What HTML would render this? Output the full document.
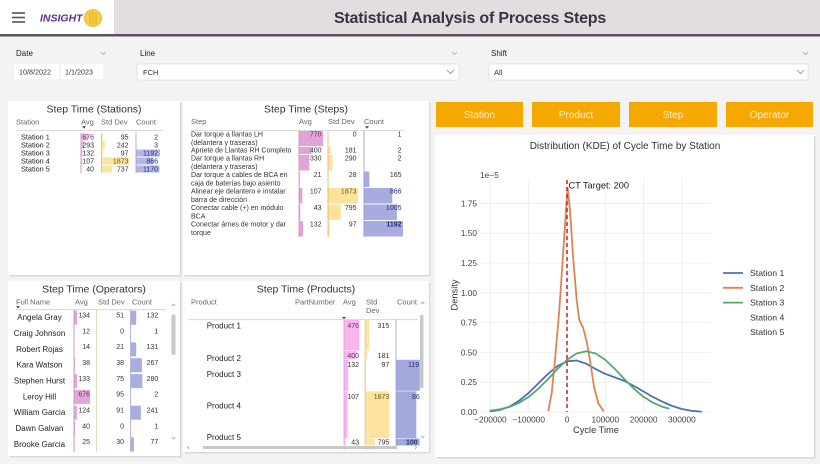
<!DOCTYPE html>
<html>
<head>
<meta charset="utf-8">
<style>
html,body{margin:0;padding:0;background:#f3f3f3;overflow:hidden;}
svg{display:block;}
text{font-family:"Liberation Sans", Arial, sans-serif;}
</style>
</head>
<body>
<svg width="820" height="464" viewBox="0 0 820 464" xmlns="http://www.w3.org/2000/svg">
<rect x="0" y="0" width="820" height="464" fill="#f3f3f3"/>

<!-- HEADER -->
<rect x="0" y="0" width="820" height="34" fill="#e3dde1"/>
<rect x="0" y="0" width="114" height="34" fill="#ffffff"/>
<rect x="0" y="34" width="820" height="2.5" fill="#5b5060"/>
<g stroke="#555" stroke-width="1.6">
<line x1="12" y1="13" x2="25" y2="13"/>
<line x1="12" y1="17.5" x2="25" y2="17.5"/>
<line x1="12" y1="22" x2="25" y2="22"/>
</g>
<text x="40" y="21.5" font-size="10.5" font-weight="bold" font-style="italic" fill="#5a2d91">INSIGHT</text>
<circle cx="93" cy="18" r="8.5" fill="#f6cf45" stroke="#e6ad1a" stroke-width="0.8"/>
<g stroke="#e0a010" stroke-width="0.8" fill="none">
<line x1="90" y1="12" x2="90" y2="24"/>
<line x1="93" y1="11" x2="93" y2="25"/>
<line x1="96" y1="12" x2="96" y2="24"/>
</g>
<text x="470" y="23" text-anchor="middle" font-size="16" font-weight="bold" fill="#3a3242" letter-spacing="-0.2">Statistical Analysis of Process Steps</text>

<!-- FILTERS -->
<text x="16" y="56" font-size="8" fill="#222">Date</text>
<polyline points="101,52 103.5,54.5 106,52" fill="none" stroke="#aaa" stroke-width="0.8"/>
<rect x="14" y="64" width="45" height="15" fill="#fff"/>
<rect x="61" y="64" width="42" height="15" fill="#fff"/>
<text x="19" y="74.5" font-size="7.2" fill="#333">10/8/2022</text>
<text x="65" y="74.5" font-size="7.2" fill="#333">1/1/2023</text>

<text x="140" y="56" font-size="8" fill="#222">Line</text>
<polyline points="452,52 454.5,54.5 457,52" fill="none" stroke="#aaa" stroke-width="0.8"/>
<rect x="137" y="64" width="322" height="16" fill="#fff" stroke="#dedede" stroke-width="0.8"/>
<text x="143" y="75" font-size="7.5" fill="#333">FCH</text>
<polyline points="447,70 450.5,73.5 454,70" fill="none" stroke="#888" stroke-width="0.8"/>

<text x="491" y="56" font-size="8" fill="#222">Shift</text>
<polyline points="803,52 805.5,54.5 808,52" fill="none" stroke="#aaa" stroke-width="0.8"/>
<rect x="489" y="64" width="319" height="16" fill="#fff" stroke="#dedede" stroke-width="0.8"/>
<text x="494" y="75" font-size="7.5" fill="#333">All</text>
<polyline points="797,70 800.5,73.5 804,70" fill="none" stroke="#888" stroke-width="0.8"/>

<!-- PANEL BACKGROUNDS -->
<rect x="9.5" y="102.5" width="172" height="174" fill="#d9d9d9"/>
<rect x="8" y="101" width="172" height="174" fill="#fff"/>
<rect x="184.5" y="102.5" width="246" height="174" fill="#d9d9d9"/>
<rect x="183" y="101" width="246" height="174" fill="#fff"/>
<rect x="9.5" y="282.5" width="172" height="175" fill="#d9d9d9"/>
<rect x="8" y="281" width="172" height="175" fill="#fff"/>
<rect x="184.5" y="282.5" width="246" height="171" fill="#d9d9d9"/>
<rect x="183" y="281" width="246" height="171" fill="#fff"/>
<rect x="436.5" y="136.5" width="379" height="322" fill="#d9d9d9"/>
<rect x="435" y="135" width="379" height="322" fill="#fff"/>

<!-- BUTTONS -->
<rect x="436" y="102" width="87" height="25" fill="#f5a800"/>
<rect x="532" y="102" width="88" height="25" fill="#f5a800"/>
<rect x="629" y="102" width="88" height="25" fill="#f5a800"/>
<rect x="726" y="102" width="87" height="25" fill="#f5a800"/>
<g font-size="10" fill="#fdf0d2" text-anchor="middle">
<text x="479.5" y="118">Station</text>
<text x="576" y="118">Product</text>
<text x="673" y="118">Step</text>
<text x="769.5" y="118">Operator</text>
</g>

<!-- ===== STATIONS TABLE ===== -->
<text x="94" y="112.5" text-anchor="middle" font-size="10.5" fill="#333">Step Time (Stations)</text>
<g font-size="7.5" fill="#666">
<text x="16" y="124.5">Station</text>
<text x="81" y="124.5">Avg</text>
<text x="101" y="124.5">Std Dev</text>
<text x="136" y="124.5">Count</text>
</g>
<polygon points="82,126.3 86,126.3 84,128.6" fill="#444"/>
<line x1="16" y1="130.5" x2="163" y2="130.5" stroke="#d0d0d0" stroke-width="0.8"/>
<!-- bars -->
<g fill="#ebb6e0">
<rect x="81" y="133.5" width="7" height="7"/>
<rect x="81" y="141.5" width="3" height="7"/>
<rect x="81" y="149.5" width="1.4" height="7"/>
<rect x="81" y="157.5" width="1.2" height="7"/>
<rect x="81" y="165.5" width="0.5" height="7"/>
</g>
<g fill="#fde3a0">
<rect x="101.5" y="133.5" width="1.4" height="7"/>
<rect x="101.5" y="141.5" width="3.6" height="7"/>
<rect x="101.5" y="149.5" width="1.4" height="7"/>
<rect x="101.5" y="157.5" width="27.5" height="7"/>
<rect x="101.5" y="165.5" width="10.8" height="7"/>
</g>
<g fill="#b3b6e6">
<rect x="136" y="149.5" width="24" height="7"/>
<rect x="136" y="157.5" width="17.4" height="7"/>
<rect x="136" y="165.5" width="23.5" height="7"/>
</g>
<line x1="81" y1="133" x2="81" y2="173" stroke="#c98bbd" stroke-width="0.8"/>
<line x1="101.5" y1="133" x2="101.5" y2="173" stroke="#e2c070" stroke-width="0.8"/>
<line x1="136" y1="133" x2="136" y2="173" stroke="#9a9ed4" stroke-width="0.8"/>
<g font-size="7.3" fill="#222">
<text x="21" y="139.5">Station 1</text>
<text x="21" y="147.5">Station 2</text>
<text x="21" y="155.5">Station 3</text>
<text x="21" y="163.5">Station 4</text>
<text x="21" y="171.5">Station 5</text>
</g>
<g font-size="7" fill="#333" text-anchor="end">
<text x="94" y="139.5" fill="#7a2a70">676</text>
<text x="94" y="147.5">293</text>
<text x="94" y="155.5">132</text>
<text x="94" y="163.5">107</text>
<text x="94" y="171.5">40</text>
<text x="128.5" y="139.5">95</text>
<text x="128.5" y="147.5">242</text>
<text x="128.5" y="155.5">97</text>
<text x="128.5" y="163.5" fill="#6e5a10">1873</text>
<text x="128.5" y="171.5">737</text>
<text x="158" y="139.5">2</text>
<text x="158" y="147.5">3</text>
<text x="158" y="155.5" fill="#23307a">1192</text>
<text x="158" y="163.5" fill="#23307a">866</text>
<text x="158" y="171.5" fill="#23307a">1170</text>
</g>

<!-- ===== STEPS TABLE ===== -->
<text x="306" y="112.5" text-anchor="middle" font-size="10.5" fill="#333">Step Time (Steps)</text>
<g font-size="7.5" fill="#666">
<text x="191" y="124">Step</text>
<text x="299" y="124">Avg</text>
<text x="328" y="124">Std Dev</text>
<text x="364" y="124">Count</text>
</g>
<polygon points="365,126.3 369,126.3 367,128.6" fill="#444"/>
<line x1="191" y1="130.5" x2="404" y2="130.5" stroke="#d0d0d0" stroke-width="0.8"/>
<g fill="#e2a4d7">
<rect x="299" y="131" width="24" height="15"/>
<rect x="299" y="147" width="12.5" height="7"/>
<rect x="299" y="155" width="10.3" height="15.5"/>
<rect x="299" y="171.5" width="0.7" height="15.5"/>
<rect x="299" y="188" width="3.3" height="15.5"/>
<rect x="299" y="204.5" width="1.3" height="15.5"/>
<rect x="299" y="221" width="4.1" height="15.5"/>
</g>
<g fill="#fde29c">
<rect x="328" y="147" width="2.9" height="7"/>
<rect x="328" y="155" width="4.6" height="15.5"/>
<rect x="328" y="171.5" width="0.5" height="15.5"/>
<rect x="328" y="188" width="30" height="15.5"/>
<rect x="328" y="204.5" width="12.7" height="15.5"/>
<rect x="328" y="221" width="1.6" height="15.5"/>
</g>
<g fill="#a7abdf">
<rect x="364" y="171.5" width="5.4" height="15.5"/>
<rect x="364" y="188" width="28.3" height="15.5"/>
<rect x="364" y="204.5" width="32.9" height="15.5"/>
<rect x="364" y="221" width="39" height="15.5"/>
</g>
<line x1="299" y1="130.5" x2="299" y2="237" stroke="#c98bbd" stroke-width="0.8"/>
<line x1="328" y1="130.5" x2="328" y2="237" stroke="#d8b860" stroke-width="0.8"/>
<line x1="364" y1="130.5" x2="364" y2="237" stroke="#8f93cc" stroke-width="0.8"/>
<g font-size="7" fill="#333">
<text x="191" y="136.5">Dar torque a llantas LH</text>
<text x="191" y="144.8">(delantera y traseras)</text>
<text x="191" y="152.5">Apriete de Llantas RH Completo</text>
<text x="191" y="160.5">Dar torque a llantas RH</text>
<text x="191" y="168.8">(delantera y traseras)</text>
<text x="191" y="177">Dar torque a cables de BCA en</text>
<text x="191" y="185.3">caja de baterías bajo asiento</text>
<text x="191" y="193.5">Alinear eje delantero e instalar</text>
<text x="191" y="201.8">barra de dirección</text>
<text x="191" y="210">Conectar cable (+) en módulo</text>
<text x="191" y="218.3">BCA</text>
<text x="191" y="226.5">Conectar árnes de motor y dar</text>
<text x="191" y="234.8">torque</text>
</g>
<g font-size="7" fill="#333" text-anchor="end">
<text x="321.5" y="136.5" fill="#7a2a70">770</text>
<text x="321.5" y="152.5">400</text>
<text x="321.5" y="160.5">330</text>
<text x="321.5" y="177">21</text>
<text x="321.5" y="193.5">107</text>
<text x="321.5" y="210">43</text>
<text x="321.5" y="226.5">132</text>
<text x="356.5" y="136.5">0</text>
<text x="356.5" y="152.5">181</text>
<text x="356.5" y="160.5">290</text>
<text x="356.5" y="177">28</text>
<text x="356.5" y="193.5" fill="#6e5a10">1873</text>
<text x="356.5" y="210">795</text>
<text x="356.5" y="226.5">97</text>
<text x="401.5" y="136.5">1</text>
<text x="401.5" y="152.5">2</text>
<text x="401.5" y="160.5">2</text>
<text x="401.5" y="177">165</text>
<text x="401.5" y="193.5" fill="#23307a">866</text>
<text x="401.5" y="210" fill="#23307a">1005</text>
<text x="401.5" y="226.5" fill="#23307a" font-weight="bold">1192</text>
</g>

<!-- ===== OPERATORS TABLE ===== -->
<text x="94" y="292.5" text-anchor="middle" font-size="10.5" fill="#333">Step Time (Operators)</text>
<g font-size="7.5" fill="#666">
<text x="16" y="304.5">Full Name</text>
<text x="75" y="304.5">Avg</text>
<text x="98" y="304.5">Std Dev</text>
<text x="132" y="304.5">Count</text>
</g>
<polygon points="16,306.3 20,306.3 18,308.6" fill="#444"/>
<line x1="16" y1="309.7" x2="166" y2="309.7" stroke="#d0d0d0" stroke-width="0.8"/>
<g fill="#e3a6d8">
<rect x="74" y="310.7" width="3.2" height="14"/>
<rect x="74" y="326.5" width="0.3" height="14"/>
<rect x="74" y="342.4" width="0.3" height="14"/>
<rect x="74" y="358.2" width="0.9" height="14"/>
<rect x="74" y="374.1" width="3.1" height="14"/>
<rect x="74" y="389.9" width="16" height="14"/>
<rect x="74" y="405.7" width="2.9" height="14"/>
<rect x="74" y="421.6" width="0.95" height="14"/>
<rect x="74" y="437.4" width="0.6" height="14"/>
</g>
<g fill="#a9addf">
<rect x="130.7" y="310.7" width="5.5" height="14"/>
<rect x="130.7" y="342.4" width="5.5" height="14"/>
<rect x="130.7" y="358.2" width="11.2" height="14"/>
<rect x="130.7" y="374.1" width="11.7" height="14"/>
<rect x="130.7" y="405.7" width="10.1" height="14"/>
<rect x="130.7" y="437.4" width="3.2" height="14"/>
</g>
<line x1="74" y1="309.7" x2="74" y2="452" stroke="#c98bbd" stroke-width="0.8"/>
<line x1="96.7" y1="309.7" x2="96.7" y2="452" stroke="#d8cba0" stroke-width="0.8"/>
<line x1="130.7" y1="309.7" x2="130.7" y2="452" stroke="#9a9ed4" stroke-width="0.8"/>
<g font-size="8" fill="#222" text-anchor="middle">
<text x="39.5" y="320.2">Angela Gray</text>
<text x="39.5" y="336">Craig Johnson</text>
<text x="39.5" y="351.9">Robert Rojas</text>
<text x="39.5" y="367.7">Kara Watson</text>
<text x="39.5" y="383.6">Stephen Hurst</text>
<text x="39.5" y="399.4">Leroy Hill</text>
<text x="39.5" y="415.2">William Garcia</text>
<text x="39.5" y="431.1">Dawn Galvan</text>
<text x="39.5" y="446.9">Brooke Garcia</text>
</g>
<g font-size="7" fill="#333" text-anchor="end">
<text x="90" y="317.5">134</text>
<text x="90" y="333.3">12</text>
<text x="90" y="349.2">14</text>
<text x="90" y="365">38</text>
<text x="90" y="380.9">133</text>
<text x="90" y="396.7" fill="#7a2a70">676</text>
<text x="90" y="412.5">124</text>
<text x="90" y="428.4">40</text>
<text x="90" y="444.2">25</text>
<text x="124" y="317.5">51</text>
<text x="124" y="333.3">0</text>
<text x="124" y="349.2">21</text>
<text x="124" y="365">38</text>
<text x="124" y="380.9">75</text>
<text x="124" y="396.7">95</text>
<text x="124" y="412.5">91</text>
<text x="124" y="428.4">0</text>
<text x="124" y="444.2">30</text>
<text x="158.3" y="317.5">132</text>
<text x="158.3" y="333.3">1</text>
<text x="158.3" y="349.2">131</text>
<text x="158.3" y="365">267</text>
<text x="158.3" y="380.9">280</text>
<text x="158.3" y="396.7">2</text>
<text x="158.3" y="412.5">241</text>
<text x="158.3" y="428.4">1</text>
<text x="158.3" y="444.2">77</text>
</g>
<rect x="171.5" y="314.7" width="4" height="40" fill="#c8c8c8"/>
<polyline points="171.8,306 173.5,304 175.2,306" fill="none" stroke="#999" stroke-width="0.7"/>
<polyline points="171.8,437 173.5,439 175.2,437" fill="none" stroke="#999" stroke-width="0.7"/>

<!-- ===== PRODUCTS TABLE ===== -->
<text x="306" y="292.5" text-anchor="middle" font-size="10.5" fill="#333">Step Time (Products)</text>
<g font-size="7.5" fill="#666">
<text x="191" y="304.5">Product</text>
<text x="295" y="304.5">PartNumber</text>
<text x="343" y="304.5">Avg</text>
<text x="366" y="304.5">Std</text>
<text x="366" y="313">Dev</text>
<text x="397" y="304.5">Count</text>
</g>
<polygon points="342,317 346,317 344,319.3" fill="#444"/>
<line x1="188" y1="319.7" x2="418" y2="319.7" stroke="#d0d0d0" stroke-width="0.8"/>
<g fill="#f8b6ee">
<rect x="344" y="320" width="15.3" height="30.5"/>
<rect x="344" y="351" width="12.5" height="8.2"/>
<rect x="344" y="359.8" width="4.3" height="31"/>
<rect x="344" y="391.3" width="3.5" height="46.8"/>
<rect x="344" y="438.6" width="1.4" height="11.5"/>
</g>
<g fill="#fde3a0">
<rect x="365" y="320" width="4.2" height="30.5"/>
<rect x="365" y="351" width="2.3" height="8.2"/>
<rect x="365" y="359.8" width="1.2" height="31"/>
<rect x="365" y="391.3" width="24.3" height="46.8"/>
<rect x="365" y="438.6" width="10.2" height="11.5"/>
</g>
<g fill="#a3a8dc">
<rect x="396" y="359.8" width="24" height="31"/>
<rect x="396" y="391.3" width="20.3" height="46.8"/>
<rect x="396" y="438.6" width="23.6" height="8"/>
</g>
<line x1="344" y1="319.7" x2="344" y2="450" stroke="#e29ad6" stroke-width="0.8"/>
<line x1="365" y1="319.7" x2="365" y2="450" stroke="#d8cba0" stroke-width="0.8"/>
<line x1="396" y1="319.7" x2="396" y2="450" stroke="#9a9ed4" stroke-width="0.8"/>
<g font-size="8" fill="#222">
<text x="206.7" y="328.5">Product 1</text>
<text x="206.7" y="361">Product 2</text>
<text x="206.7" y="377">Product 3</text>
<text x="206.7" y="408.5">Product 4</text>
<text x="206.7" y="440">Product 5</text>
</g>
<g font-size="7" fill="#333" text-anchor="end">
<text x="359" y="328" fill="#7a2a70">476</text>
<text x="359" y="357.8" fill="#7a2a70">400</text>
<text x="359" y="367">132</text>
<text x="359" y="398.8">107</text>
<text x="359" y="444.5">43</text>
<text x="389.3" y="328">315</text>
<text x="389.3" y="357.8">181</text>
<text x="389.3" y="367">97</text>
<text x="389.3" y="398.8" fill="#6e5a10">1873</text>
<text x="389.3" y="444.5">795</text>
</g>
<g font-size="7" fill="#23307a">
<text x="408" y="367">119</text>
<text x="412" y="398.8">86</text>
<text x="406" y="444.5" font-weight="bold">100</text>
</g>
<rect x="419.8" y="313" width="4" height="137" fill="#fff"/>
<rect x="420" y="315" width="3.5" height="73" fill="#c8c8c8"/>
<polyline points="421,304 422.7,302 424.4,304" fill="none" stroke="#999" stroke-width="0.7"/>
<polyline points="421,436 422.7,438 424.4,436" fill="none" stroke="#999" stroke-width="0.7"/>
<rect x="186" y="445.5" width="234" height="4" fill="#fff"/>
<rect x="203" y="446" width="194" height="3" fill="#c8c8c8"/>
<polyline points="189,446 187.5,447.5 189,449" fill="none" stroke="#999" stroke-width="0.7"/>
<polyline points="415,446 416.5,447.5 415,449" fill="none" stroke="#999" stroke-width="0.7"/>

<!-- ===== CHART ===== -->
<text x="625" y="149" text-anchor="middle" font-size="10" fill="#333">Distribution (KDE) of Cycle Time by Station</text>
<g stroke="#ebebeb" stroke-width="0.8">
<line x1="480" y1="412" x2="711" y2="412"/>
<line x1="480" y1="382.2" x2="711" y2="382.2"/>
<line x1="480" y1="352.4" x2="711" y2="352.4"/>
<line x1="480" y1="322.6" x2="711" y2="322.6"/>
<line x1="480" y1="292.8" x2="711" y2="292.8"/>
<line x1="480" y1="263" x2="711" y2="263"/>
<line x1="480" y1="233.2" x2="711" y2="233.2"/>
<line x1="480" y1="203.4" x2="711" y2="203.4"/>
<line x1="490.4" y1="178" x2="490.4" y2="412"/>
<line x1="528.7" y1="178" x2="528.7" y2="412"/>
<line x1="567" y1="178" x2="567" y2="412"/>
<line x1="605.3" y1="178" x2="605.3" y2="412"/>
<line x1="643.6" y1="178" x2="643.6" y2="412"/>
<line x1="681.9" y1="178" x2="681.9" y2="412"/>
</g>
<g font-size="8.3" fill="#444" text-anchor="end">
<text x="477" y="415">0.00</text>
<text x="477" y="385.2">0.25</text>
<text x="477" y="355.4">0.50</text>
<text x="477" y="325.6">0.75</text>
<text x="477" y="295.8">1.00</text>
<text x="477" y="266">1.25</text>
<text x="477" y="236.2">1.50</text>
<text x="477" y="206.4">1.75</text>
</g>
<text x="480" y="178" font-size="8.3" fill="#444">1e−5</text>
<g font-size="8.3" fill="#444" text-anchor="middle">
<text x="490.4" y="422.5">−200000</text>
<text x="528.7" y="422.5">−100000</text>
<text x="567" y="422.5">0</text>
<text x="605.3" y="422.5">100000</text>
<text x="643.6" y="422.5">200000</text>
<text x="681.9" y="422.5">300000</text>
</g>
<text x="596" y="433" text-anchor="middle" font-size="9.3" fill="#333">Cycle Time</text>
<text x="0" y="0" transform="translate(457.5,295) rotate(-90)" text-anchor="middle" font-size="9.3" fill="#333">Density</text>

<g fill="none" stroke-width="1.8" stroke-linejoin="round" stroke-linecap="round">
<polyline stroke="#4c72b0" points="490.4,411.4 500.0,409.9 509.6,406.6 519.1,400.7 528.7,392.9 538.3,383.4 547.9,373.9 557.4,366.1 567.0,361.3 576.6,360.5 586.2,363.7 595.7,369.1 605.3,373.9 614.9,377.4 624.5,381.0 634.0,386.0 643.6,391.5 653.2,397.1 662.8,401.9 672.3,406.0 681.9,409.0 691.5,410.8 701.1,411.6"/>
<polyline stroke="#dd8452" points="548.3,410.5 551.7,393.3 555,360 559.3,310 562.7,260 566,210 567.7,188.3 570,210 573.3,260 576.7,300 579.3,320 583.3,328.3 586.7,341.7 590,360 594,386.7 598.3,403.3 603.3,410.7"/>
<polyline stroke="#55a868" points="490.4,410.7 500.0,409.3 509.6,406.9 519.1,402.8 528.7,396.9 538.3,388.8 547.9,379.2 557.4,369.0 567.0,359.9 576.6,353.5 586.2,351.2 595.7,353.5 605.3,359.9 614.9,369.0 624.5,379.2 634.0,388.8 643.6,396.9 653.2,402.8 662.8,406.9 668.5,408.5"/>
</g>
<line x1="567" y1="180" x2="567" y2="412" stroke="#c81e28" stroke-width="1.5" stroke-dasharray="4,3"/>
<text x="568.5" y="188.5" font-size="9.2" fill="#222">CT Target: 200</text>

<!-- legend -->
<g stroke-width="1.8">
<line x1="723" y1="273" x2="743" y2="273" stroke="#4c72b0"/>
<line x1="723" y1="287.8" x2="743" y2="287.8" stroke="#dd8452"/>
<line x1="723" y1="302.6" x2="743" y2="302.6" stroke="#55a868"/>
</g>
<g font-size="8.7" fill="#333">
<text x="750" y="276">Station 1</text>
<text x="750" y="290.8">Station 2</text>
<text x="750" y="305.6">Station 3</text>
<text x="750" y="320.4">Station 4</text>
<text x="750" y="335.2">Station 5</text>
</g>
</svg>
</body>
</html>
